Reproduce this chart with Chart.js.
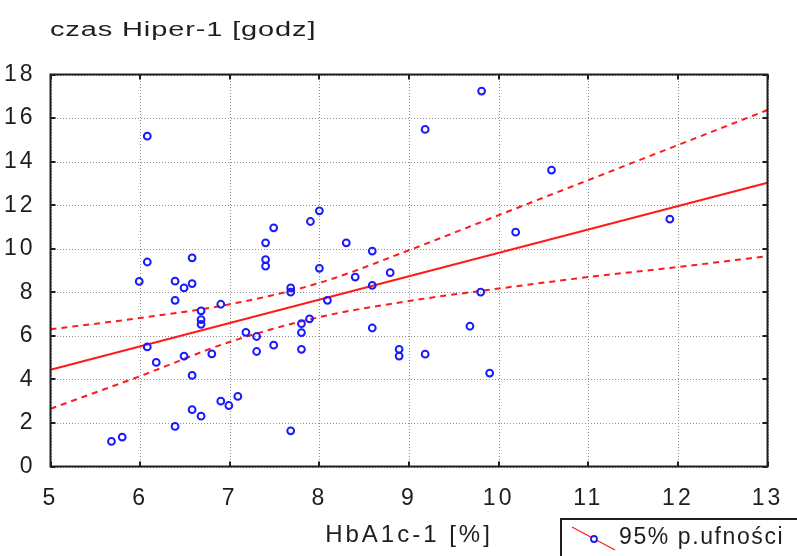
<!DOCTYPE html>
<html>
<head>
<meta charset="utf-8">
<script src="https://cdn.jsdelivr.net/npm/chart.js@4.4.0/dist/chart.umd.min.js"></script>
<style>
  html, body { margin: 0; padding: 0; background: #fff; }
</style>
</head>
<body>
<canvas id="c" width="797" height="556"></canvas>
<script>
// HbA1c-1 [%] of each patient
const hba1c = [
  5.68, 5.80, 5.99, 6.08, 6.08, 6.08, 6.18, 6.39, 6.39, 6.39,
  6.49, 6.49, 6.58, 6.58, 6.58, 6.58, 6.68, 6.68, 6.68, 6.68,
  6.80, 6.90, 6.90, 6.99, 7.09, 7.18, 7.30, 7.30, 7.40, 7.40,
  7.40, 7.49, 7.49, 7.68, 7.68, 7.68, 7.80, 7.80, 7.80, 7.90,
  7.89, 8.00, 8.00, 8.09, 8.30, 8.40, 8.59, 8.59, 8.59, 8.79,
  8.89, 8.89, 9.18, 9.18, 9.68, 9.81, 9.80, 9.90, 10.19, 10.59,
  11.91
];
// czas Hiper-1 [godz] of each patient
const hiperTime = [
  1.15, 1.35, 8.50, 15.17, 9.39, 5.49, 4.78, 8.51, 7.63, 1.84,
  8.20, 5.07, 9.58, 8.40, 4.18, 2.61, 7.15, 6.74, 6.53, 2.31,
  5.17, 7.45, 3.00, 2.80, 3.22, 6.16, 5.97, 5.28, 10.27, 9.50,
  9.20, 10.96, 5.57, 8.20, 8.01, 1.64, 6.56, 6.15, 5.38, 11.25,
  6.78, 11.74, 9.10, 7.63, 10.27, 8.70, 9.89, 8.32, 6.36, 8.90,
  5.38, 5.07, 15.48, 5.16, 6.44, 17.24, 8.01, 4.29, 10.76, 13.61,
  11.36
];

// fitted regression line
const fitX = [5, 13];
const fitY = [4.44, 13.03];

// 95% confidence band
const bandX = [5, 6, 7, 8, 9, 10, 11, 12, 13];
const bandUpper = [6.30, 6.82, 7.45, 8.43, 9.93, 11.54, 13.15, 14.76, 16.37];
const bandLower = [2.65, 4.15, 5.72, 6.86, 7.60, 8.17, 8.70, 9.16, 9.66];

// tick values
const xTickValues = [5, 6, 7, 8, 9, 10, 11, 12, 13];
const yTickValues = [0, 2, 4, 6, 8, 10, 12, 14, 16, 18];

const titleText = 'czas Hiper-1 [godz]';
const xTitleText = 'HbA1c-1 [%]';
const legendText = '95% p.ufności';

const RED = '#ff1a1a';
const BLUE = '#1a1aff';
const INK = '#1e1e1e';
const GRID = '#8f8f8f';
const FONT = '"Liberation Sans", Arial, sans-serif';

const pts = (xs, ys) => xs.map((x, i) => ({ x: x, y: ys[i] }));

// pixel position of a value on a scale, with a linear fallback on the scale range
function pixelOf(scale, v, lo, hi) {
  const p = scale.getPixelForValue(v);
  if (Number.isFinite(p)) return p;
  return lo + (v - scale.min) / (scale.max - scale.min) * (hi - lo);
}

function drawGrid(chart) {
  const ctx = chart.ctx;
  const a = chart.chartArea;
  const sx = chart.scales.x, sy = chart.scales.y;
  ctx.save();
  ctx.fillStyle = GRID;
  xTickValues.forEach(v => {
    const px = Math.round(pixelOf(sx, v, a.left, a.right));
    for (let y = Math.ceil(a.top); y < a.bottom; y += 3) ctx.fillRect(px, y, 1, 1);
  });
  yTickValues.forEach(v => {
    const py = Math.round(pixelOf(sy, v, a.bottom, a.top));
    for (let x = Math.ceil(a.left); x < a.right; x += 3) ctx.fillRect(x, py, 1, 1);
  });
  ctx.restore();
}

const frameAndText = {
  id: 'frameAndText',
  beforeDraw(chart) {
    chart.ctx.letterSpacing = '3px';
  },
  beforeDatasetsDraw(chart) {
    drawGrid(chart);
  },
  afterDraw(chart) {
    const ctx = chart.ctx;
    const a = chart.chartArea;
    const sx = chart.scales.x, sy = chart.scales.y;
    ctx.save();
    // inward tick marks on all four sides
    ctx.fillStyle = INK;
    xTickValues.forEach(v => {
      const px = Math.round(pixelOf(sx, v, a.left, a.right));
      ctx.fillRect(px - 1, a.bottom - 5, 2, 5);
      ctx.fillRect(px - 1, a.top, 2, 5);
    });
    yTickValues.forEach(v => {
      const py = Math.round(pixelOf(sy, v, a.bottom, a.top));
      ctx.fillRect(a.left, py - 1, 5, 2);
      ctx.fillRect(a.right - 5, py - 1, 5, 2);
    });
    // plot frame
    ctx.strokeStyle = INK;
    ctx.lineWidth = 2;
    ctx.strokeRect(a.left, a.top, a.right - a.left, a.bottom - a.top);

    // chart title (y-axis variable)
    ctx.fillStyle = INK;
    ctx.font = '20px ' + FONT;
    ctx.textBaseline = 'middle';
    ctx.textAlign = 'left';
    ctx.letterSpacing = '0.6px';
    ctx.translate(50, 30);
    ctx.scale(1.45, 1);
    ctx.fillText(titleText, 0, 0);
    ctx.restore();

    // legend box
    ctx.save();
    ctx.strokeStyle = INK;
    ctx.lineWidth = 2;
    ctx.strokeRect(561, 519, 260, 60);
    ctx.strokeStyle = RED;
    ctx.lineWidth = 1.2;
    ctx.beginPath();
    ctx.moveTo(572, 527);
    ctx.lineTo(615, 550);
    ctx.stroke();
    ctx.strokeStyle = BLUE;
    ctx.lineWidth = 1.8;
    ctx.fillStyle = '#fff';
    ctx.beginPath();
    ctx.arc(594, 539, 3, 0, Math.PI * 2);
    ctx.fill();
    ctx.stroke();
    ctx.fillStyle = INK;
    ctx.font = '23px ' + FONT;
    ctx.textBaseline = 'middle';
    ctx.textAlign = 'left';
    ctx.letterSpacing = '1.6px';
    ctx.fillText(legendText, 619, 538);
    ctx.restore();
  }
};

new Chart(document.getElementById('c'), {
  type: 'scatter',
  data: {
    datasets: [
      {
        data: pts(hba1c, hiperTime),
        showLine: false,
        pointStyle: 'circle',
        pointRadius: 3.4,
        pointBorderWidth: 2,
        borderColor: BLUE,
        backgroundColor: 'rgba(255,255,255,0)',
        pointBorderColor: BLUE,
        pointBackgroundColor: 'rgba(255,255,255,0)'
      },
      {
        data: pts(fitX, fitY),
        showLine: true,
        borderColor: RED,
        borderWidth: 2,
        pointRadius: 0
      },
      {
        data: pts(bandX, bandUpper),
        showLine: true,
        borderColor: RED,
        borderWidth: 2,
        borderDash: [6, 5],
        cubicInterpolationMode: 'monotone',
        pointRadius: 0
      },
      {
        data: pts(bandX, bandLower),
        showLine: true,
        borderColor: RED,
        borderWidth: 2,
        borderDash: [6, 5],
        cubicInterpolationMode: 'monotone',
        pointRadius: 0
      }
    ]
  },
  options: {
    responsive: false,
    animation: false,
    devicePixelRatio: 1,
    layout: { padding: { top: 74.5, right: 29.5, bottom: 0, left: 0 } },
    plugins: {
      legend: { display: false },
      tooltip: { enabled: false }
    },
    scales: {
      x: {
        type: 'linear',
        min: 5, max: 13,
        afterBuildTicks: s => { s.ticks = xTickValues.map(v => ({ value: v })); },
        afterFit: s => { s.height = 89.5; },
        grid: { display: false },
        border: { display: false },
        ticks: {
          color: INK,
          font: { family: FONT, size: 23 },
          padding: 10,
          maxRotation: 0,
          autoSkip: false
        },
        title: {
          display: true,
          text: xTitleText,
          color: INK,
          font: { family: FONT, size: 24 },
          padding: { top: 0, bottom: 6.6 }
        }
      },
      y: {
        type: 'linear',
        min: 0, max: 18,
        afterBuildTicks: s => { s.ticks = yTickValues.map(v => ({ value: v })); },
        afterFit: s => { s.width = 50.5; },
        grid: { display: false },
        border: { display: false },
        ticks: {
          color: INK,
          font: { family: FONT, size: 23 },
          padding: 7,
          autoSkip: false
        }
      }
    }
  },
  plugins: [frameAndText]
});
</script>
</body>
</html>
